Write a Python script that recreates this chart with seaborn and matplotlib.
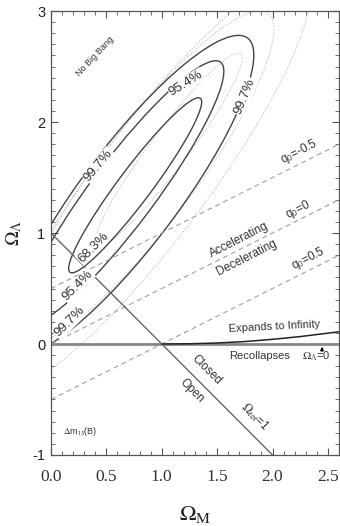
import numpy as np
import pandas as pd
import seaborn as sns
import matplotlib.pyplot as plt
from matplotlib.patches import Ellipse
from matplotlib.ticker import MultipleLocator

# confidence regions: centre, full length, full width, tilt (deg)
contour_names = ['68.3%', '95.4%', '99.7%']
contour_cx = [0.76, 0.648, 0.712]
contour_cy = [1.43, 1.364, 1.341]
contour_len = [1.96, 2.94, 3.54]
contour_wid = [0.30, 0.58, 0.88]
contour_tilt = [53.1, 53.1, 53.1]

# faint dotted regions (other fit)
dotted_cx = [1.064, 0.85, 0.90]
dotted_cy = [1.752, 1.50, 1.45]
dotted_len = [2.16, 3.70, 4.60]
dotted_wid = [0.34, 0.86, 1.00]
dotted_tilt = [53.1, 53.1, 53.1]

# deceleration parameter lines
q0_labels = ['-0.5', '0', '0.5']
q0_x = [0.0, 2.6]
q0_y = [[0.5, 1.8], [0.0, 1.3], [-0.5, 0.8]]

# flat universe and lambda = 0
flat_x = [0.0, 2.0]
flat_y = [1.0, -1.0]
lam0_x = [0.0, 2.6]
lam0_y = [0.0, 0.0]

# expands / recollapses boundary
expand_x = [1.0, 1.25, 1.5, 1.75, 2.0, 2.25, 2.6]
expand_y = [0.0, 0.002, 0.009, 0.022, 0.042, 0.067, 0.11]

sns.set_style("ticks")
plt.rcParams['font.family'] = ['Liberation Sans', 'DejaVu Sans']
plt.rcParams['mathtext.fontset'] = 'stix'
plt.rcParams['axes.unicode_minus'] = False

fig = plt.figure(figsize=(3.4, 5.26), dpi=100)
ax = fig.add_axes([0.15, 0.135, 0.847, 0.844])

grey = '#444444'

# dotted contours first so the solid ones sit on top
for cx, cy, L, W, t in zip(dotted_cx, dotted_cy, dotted_len, dotted_wid, dotted_tilt):
    ax.add_patch(Ellipse((cx, cy), L, W, angle=t, fill=False, ec='#b4b4b4',
                         lw=0.7, ls=(0, (1, 1.5))))

for cx, cy, L, W, t in zip(contour_cx, contour_cy, contour_len, contour_wid, contour_tilt):
    ax.add_patch(Ellipse((cx, cy), L, W, angle=t, fill=False, ec=grey, lw=1.0))

# q0 lines
q0_df = pd.DataFrame({'x': q0_x * 3,
                      'y': [v for pair in q0_y for v in pair],
                      'q0': [q for q in q0_labels for _ in range(2)]})
sns.lineplot(data=q0_df, x='x', y='y', units='q0', estimator=None, ax=ax,
             color='#a8a8a8', lw=0.9, ls=(0, (4, 3)))

sns.lineplot(x=flat_x, y=flat_y, ax=ax, color='#666666', lw=1.0)
sns.lineplot(x=lam0_x, y=lam0_y, ax=ax, color='#888888', lw=2.0)
sns.lineplot(x=expand_x, y=expand_y, ax=ax, color='#222222', lw=1.1)

# contour labels on white patches so they cut the lines
box = dict(fc='white', ec='none', pad=0.6)
clabels = [('99.7%', 0.43, 1.61, 50), ('95.4%', 1.22, 2.35, 32), ('99.7%', 1.75, 2.23, 68),
           ('68.3%', 0.38, 0.87, 45), ('95.4%', 0.24, 0.53, 45), ('99.7%', 0.17, 0.20, 45)]
for s, x, y, r in clabels:
    ax.text(x, y, s, rotation=r, ha='center', va='center', fontsize=9.5,
            color='#333333', bbox=box, zorder=5, rotation_mode='anchor')

tc = '#333333'
ax.text(0.40, 2.59, 'No Big Bang', rotation=47, fontsize=6.5, ha='center', va='center', color=tc)
ax.text(2.24, 1.73, r'q$_\mathsf{0}$=-0.5', rotation=27, fontsize=8.5, ha='center', va='center', color=tc)
ax.text(2.23, 1.21, r'q$_\mathsf{0}$=0', rotation=27, fontsize=8.5, ha='center', va='center', color=tc)
ax.text(2.32, 0.77, r'q$_\mathsf{0}$=0.5', rotation=27, fontsize=8.5, ha='center', va='center', color=tc)
ax.text(1.70, 0.94, 'Accelerating', rotation=27, fontsize=8.5, ha='center', va='center', color=tc)
ax.text(1.77, 0.78, 'Decelerating', rotation=27, fontsize=8.5, ha='center', va='center', color=tc)
ax.text(2.02, 0.16, 'Expands to Infinity', rotation=3, fontsize=8, ha='center', va='center', color=tc)
ax.text(1.88, -0.11, 'Recollapses', fontsize=8, ha='center', va='center', color=tc)
ax.text(2.40, -0.11, r'$\Omega_\Lambda$=0', fontsize=8, ha='center', va='center', color=tc)
ax.annotate('', xy=(2.447, 0.0), xytext=(2.447, -0.09),
            arrowprops=dict(arrowstyle='-|>', lw=0.8, color='k', mutation_scale=5))
ax.text(1.40, -0.23, 'Closed', rotation=-45, fontsize=8.5, ha='center', va='center', color=tc)
ax.text(1.27, -0.42, 'Open', rotation=-45, fontsize=8.5, ha='center', va='center', color=tc)
ax.text(1.84, -0.65, r'$\Omega_\mathsf{tot}$=1', rotation=-45, fontsize=8.5, ha='center', va='center', color=tc)
ax.text(0.26, -0.79, r'$\Delta$m$_\mathsf{15}$(B)', fontsize=6.5, ha='center', va='center', color=tc)

ax.set_xlim(0, 2.6)
ax.set_ylim(-1, 3)
ax.xaxis.set_major_locator(MultipleLocator(0.5))
ax.xaxis.set_minor_locator(MultipleLocator(0.1))
ax.yaxis.set_major_locator(MultipleLocator(1))
ax.yaxis.set_minor_locator(MultipleLocator(0.1))
ax.tick_params(which='both', direction='in', top=True, right=True, color='#555555')
ax.tick_params(which='major', length=5, width=0.8)
ax.tick_params(which='minor', length=3, width=0.6)
ax.tick_params(axis='x', pad=10, labelsize=12.5, labelcolor='#333333')
ax.tick_params(axis='y', pad=4, labelsize=10.5, labelcolor='#222222')
ax.set_xticks([0, 0.5, 1.0, 1.5, 2.0, 2.5])
ax.set_xticklabels(['0.0', '0.5', '1.0', '1.5', '2.0', '2.5'], family='Liberation Serif')
ax.set_yticks([-1, 0, 1, 2, 3])
ax.set_yticklabels(['-1', '0', '1', '2', '3'])
for sp in ax.spines.values():
    sp.set_color('#555555')
    sp.set_linewidth(0.9)

ax.set_xlabel(r'$\Omega_\mathrm{M}$', fontsize=16, labelpad=14, color='#222222')
ax.set_ylabel(r'$\Omega_\Lambda$', fontsize=14, labelpad=6, color='#222222')

fig.savefig('out.png', dpi=100)
